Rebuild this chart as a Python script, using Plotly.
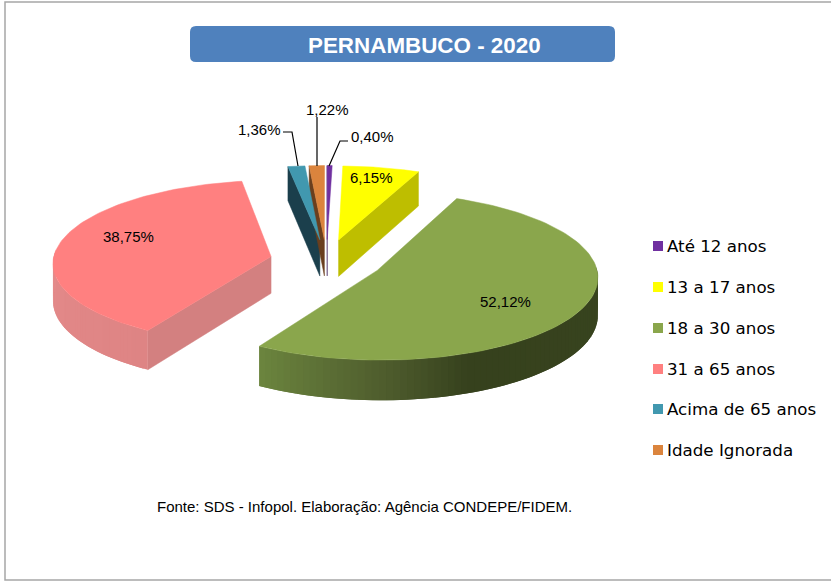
import numpy as np
import plotly.graph_objects as go

categories = ["Até 12 anos", "13 a 17 anos", "18 a 30 anos", "31 a 65 anos", "Acima de 65 anos", "Idade Ignorada"]
values = [0.40, 6.15, 52.12, 38.75, 1.36, 1.22]
top_colors = ["#7030A0", "#FFFF00", "#8AA64C", "#FF8080", "#4198AF", "#DB843D"]
face_colors = ["#3B1A55", "#BEBE00", "#4A5A28", "#D38080", "#1B3F4C", "#6A3F1E"]
title_text = "PERNAMBUCO - 2020"
source_text = "Fonte: SDS - Infopol. Elaboração: Agência CONDEPE/FIDEM."

CX, CY, A, B, K, DEPTH, EXPLODE = 326.5, 260.5, 218, 82, 0.07, 37, 0.26
FONT = "Liberation Sans"


def project(u, v, z=0.0):
    s = 1 / (1 - K * v)
    return CX + A * u * s, CY + B * v * s + z * s


def lerp_hex(c1, c2, t):
    a = [int(c1[i:i + 2], 16) for i in (1, 3, 5)]
    b = [int(c2[i:i + 2], 16) for i in (1, 3, 5)]
    return "rgb(%d,%d,%d)" % tuple(round(p + (q - p) * t) for p, q in zip(a, b))


fig = go.Figure()


def poly(xs, ys, color, width=0.5):
    fig.add_trace(go.Scatter(x=list(xs), y=list(ys), mode="lines", fill="toself", fillcolor=color,
                             line=dict(color=color, width=width), hoverinfo="skip", showlegend=False))


edges = np.concatenate([[0], np.cumsum(values)]) / sum(values) * 2 * np.pi
slices = []
for i, val in enumerate(values):
    t0, t1 = edges[i], edges[i + 1]
    mid = (t0 + t1) / 2
    slices.append((i, t0, t1, EXPLODE * np.sin(mid), -EXPLODE * np.cos(mid)))


def radial_face(s, theta):
    i, t0, t1, ou, ov = s
    rim_u, rim_v = ou + np.sin(theta), ov - np.cos(theta)
    a = project(ou, ov)
    b = project(rim_u, rim_v)
    c = project(rim_u, rim_v, DEPTH)
    d = project(ou, ov, DEPTH)
    poly([a[0], b[0], c[0], d[0], a[0]], [a[1], b[1], c[1], d[1], a[1]], face_colors[i])


def rim_face(s, stops, n=110):
    """Outer wall, painted as overlapping bands so no seams show. stops: (fraction, colour)."""
    i, t0, t1, ou, ov = s
    ts = np.linspace(t0, t1, n + 1)
    for j in range(n):
        if np.cos((ts[j] + ts[j + 1]) / 2) > 0.05:
            continue
        f = j / (n - 1)
        for (f0, c0), (f1, c1) in zip(stops[:-1], stops[1:]):
            if f0 <= f <= f1:
                col = lerp_hex(c0, c1, (f - f0) / (f1 - f0))
                break
        tt = np.linspace(ts[j], ts[min(j + 2, n)], 5)
        top = [project(ou + np.sin(t), ov - np.cos(t)) for t in tt]
        bot = [project(ou + np.sin(t), ov - np.cos(t), DEPTH) for t in tt[::-1]]
        pts = top + bot + [top[0]]
        poly([p[0] for p in pts], [p[1] for p in pts], col, width=0)


def top_face(s):
    i, t0, t1, ou, ov = s
    ts = np.linspace(t0, t1, 100)
    pts = [project(ou, ov)] + [project(ou + np.sin(t), ov - np.cos(t)) for t in ts] + [project(ou, ov)]
    poly([p[0] for p in pts], [p[1] for p in pts], top_colors[i])


# side walls that face the viewer, back slices first
radial_face(slices[1], edges[2])
radial_face(slices[4], edges[4])
radial_face(slices[5], edges[5])
radial_face(slices[0], edges[0])
for idx in [1, 4, 5, 0]:
    top_face(slices[idx])
radial_face(slices[3], edges[3])
rim_face(slices[3], [(0, "#DE8484"), (0.5, "#E58B8B"), (1, "#E58A8A")])
top_face(slices[3])
rim_face(slices[2], [(0, "#3A4720"), (0.72, "#36411D"), (0.83, "#4E5C2D"), (1, "#6B843E")])
top_face(slices[2])

# frame and title box
shapes = [
    dict(type="rect", x0=5, y0=2, x1=850, y1=580, line=dict(color="#A6A6A6", width=1.5), layer="below"),
    dict(type="path", path="M196,26 H609 Q615,26 615,32 V56 Q615,62 609,62 H196 Q190,62 190,56 V32 Q190,26 196,26 Z",
         fillcolor="#4F81BD", line=dict(width=0), layer="below"),
]


def pct(v):
    return f"{v:.2f}".replace(".", ",") + "%"


label_xy = [(372, 136), (371, 177), (505, 301), (128, 236), (259, 129), (327, 109)]
annotations = [dict(x=x, y=y, text=pct(v), showarrow=False, font=dict(family=FONT, size=15, color="#000000"),
                    xanchor="center", yanchor="middle")
               for (x, y), v in zip(label_xy, values)]
annotations += [
    dict(x=424.5, y=45, text=f"<b>{title_text}</b>", showarrow=False,
         font=dict(family=FONT, size=22.4, color="#FFFFFF"), xanchor="center", yanchor="middle"),
    dict(x=364.5, y=506, text=source_text, showarrow=False, font=dict(family=FONT, size=15, color="#000000"),
         xanchor="center", yanchor="middle"),
]

# leader lines
for xs, ys in [([283, 292, 298], [132, 132, 166]), ([317, 317], [117, 166]), ([348, 340, 329], [141, 141, 166])]:
    fig.add_trace(go.Scatter(x=xs, y=ys, mode="lines", line=dict(color="#000000", width=1.2),
                             hoverinfo="skip", showlegend=False))

# legend
legend_y = [246, 287, 328, 369, 409, 450]
fig.add_trace(go.Scatter(x=[658] * 6, y=legend_y, mode="markers",
                         marker=dict(symbol="square", size=10, color=top_colors), hoverinfo="skip", showlegend=False))
annotations += [dict(x=665, y=y, text=c, showarrow=False, xanchor="left", yanchor="middle",
                     font=dict(family="DejaVu Sans", size=16.7, color="#000000")) for c, y in zip(categories, legend_y)]

fig.update_layout(width=831, height=581, margin=dict(l=0, r=0, t=0, b=0), paper_bgcolor="#FFFFFF",
                  plot_bgcolor="#FFFFFF", shapes=shapes, annotations=annotations, showlegend=False,
                  xaxis=dict(range=[0, 831], visible=False, fixedrange=True),
                  yaxis=dict(range=[581, 0], visible=False, fixedrange=True))
fig.write_html("out.html", config={"displayModeBar": False},
               post_script="document.body.style.margin='0';document.documentElement.style.overflow='hidden';")
